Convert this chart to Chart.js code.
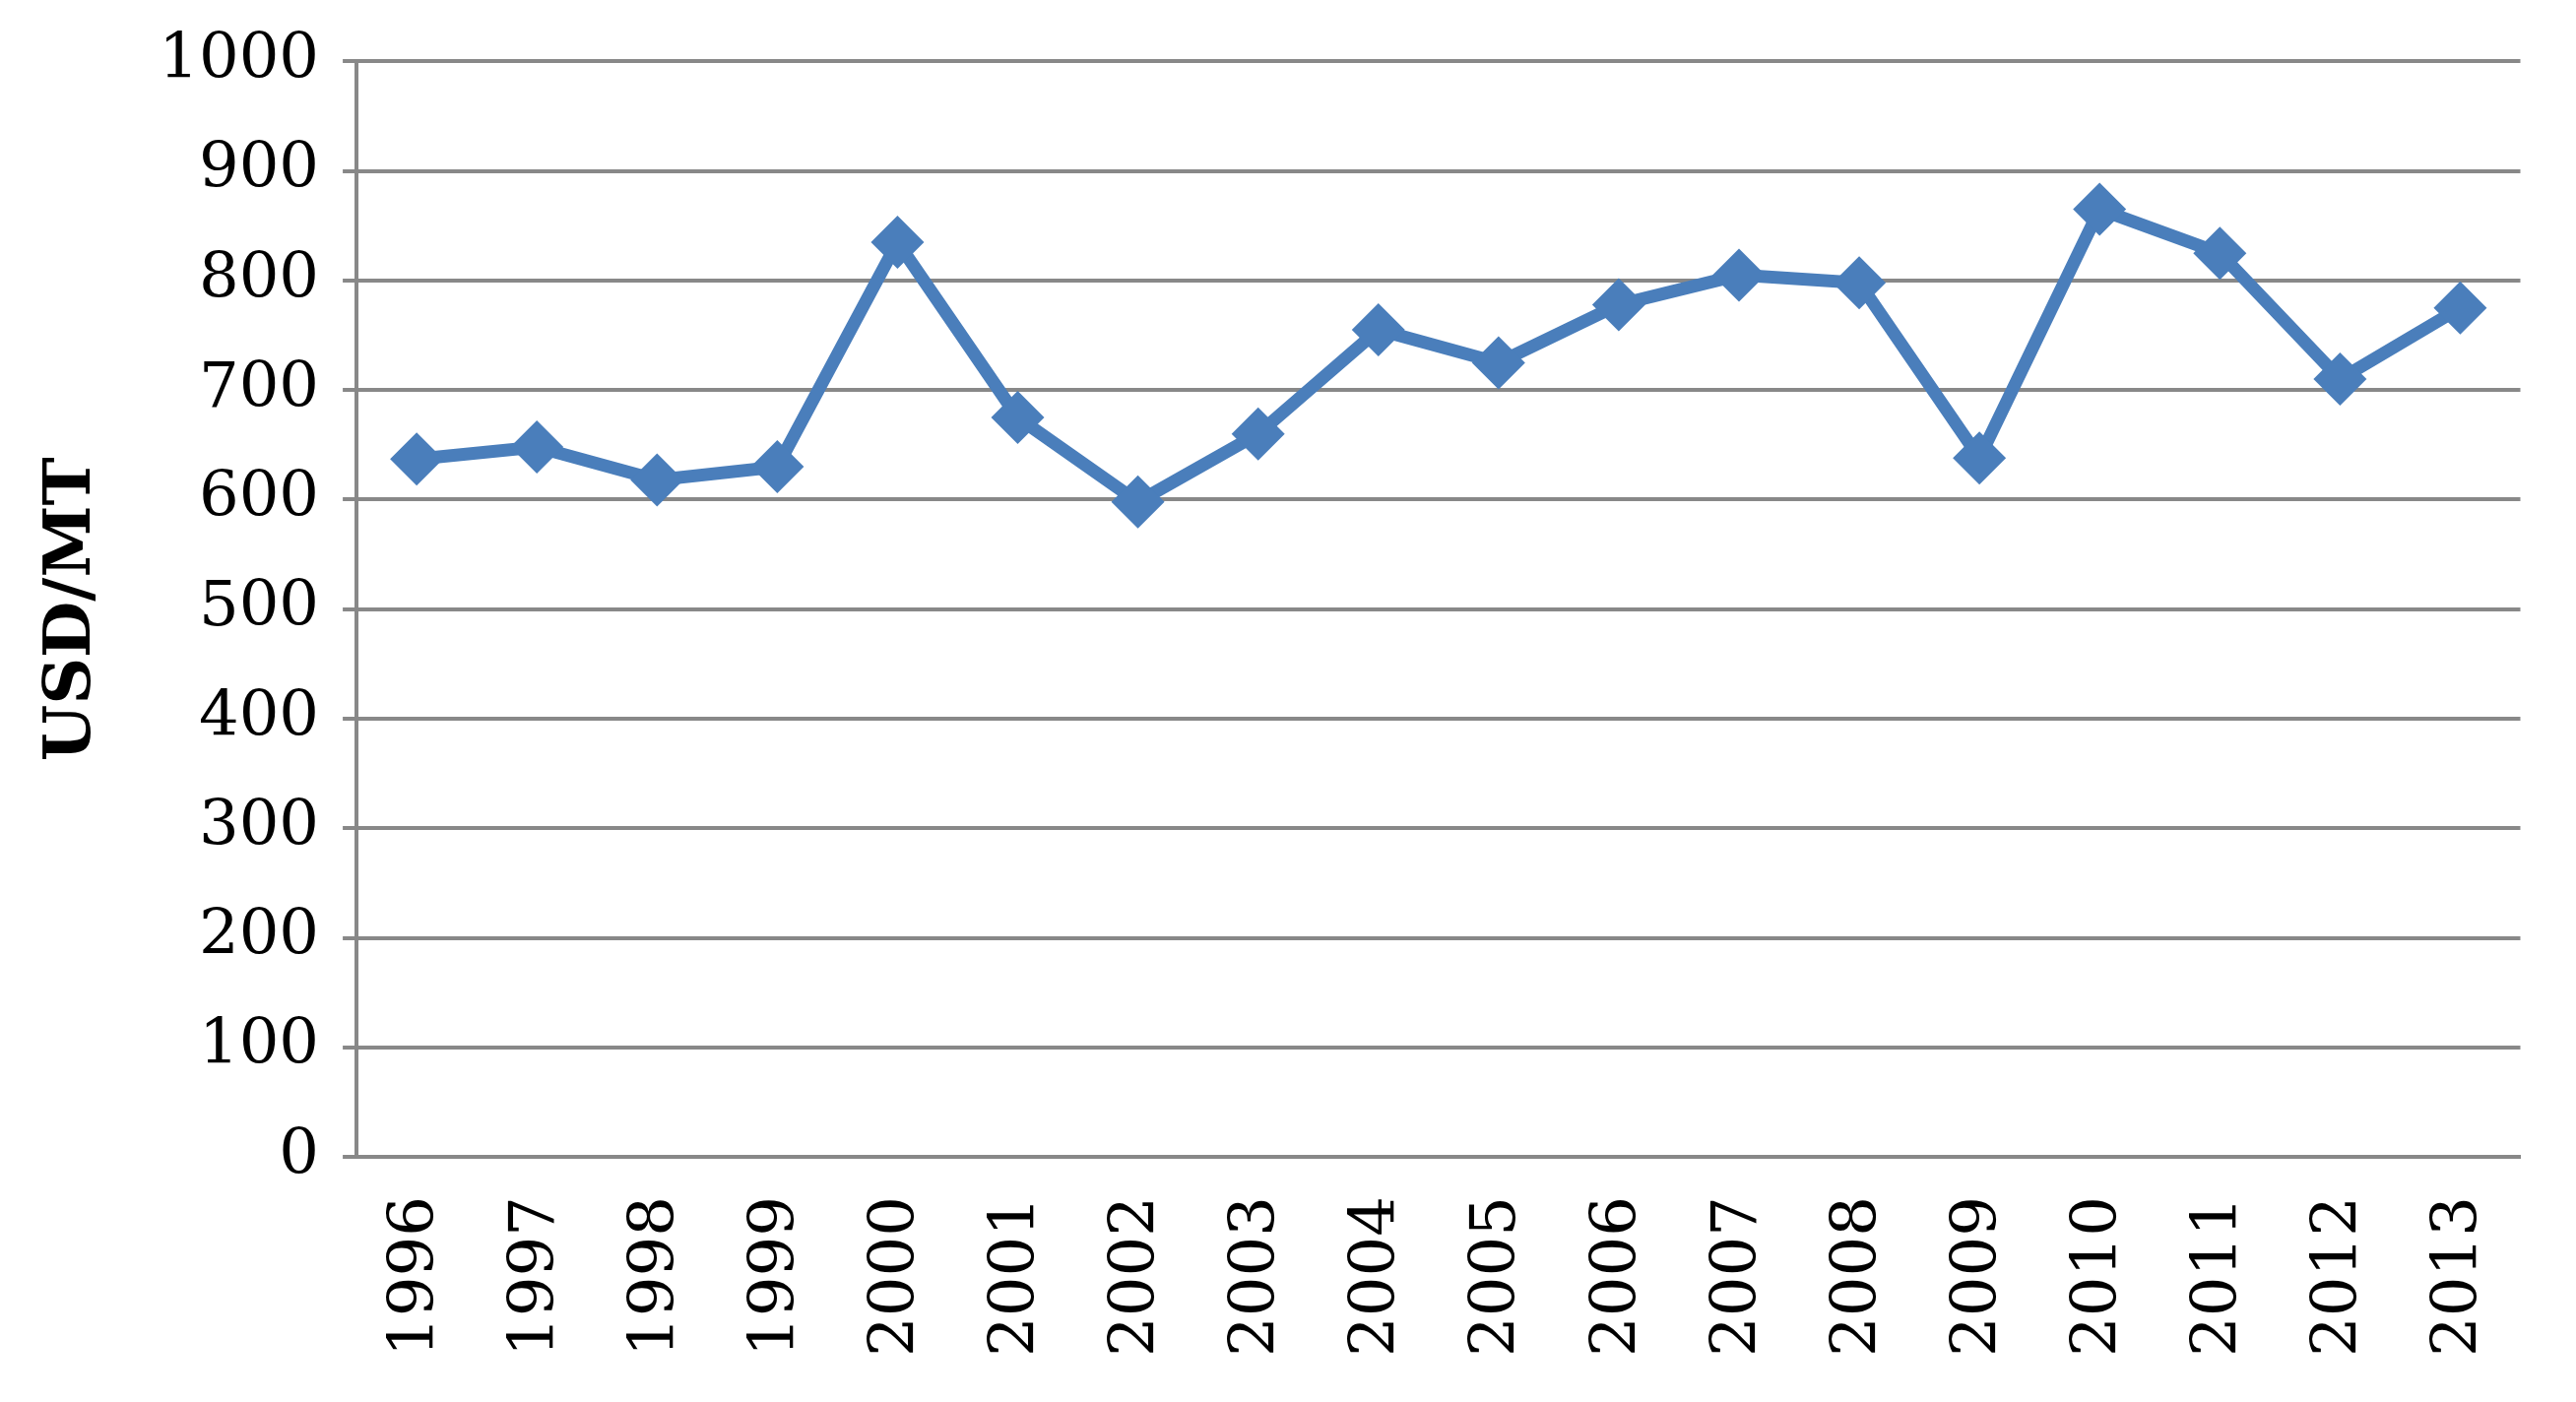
<!DOCTYPE html>
<html>
<head>
<meta charset="utf-8">
<script src="https://cdn.jsdelivr.net/npm/chart.js@4"></script>
<style>
  html, body { margin: 0; padding: 0; background: #fff; }
  #wrap { width: 2616px; height: 1424px; }
</style>
</head>
<body>
<div id="wrap"><canvas id="c"></canvas></div>
<script>
const years = ['1996','1997','1998','1999','2000','2001','2002','2003','2004','2005','2006','2007','2008','2009','2010','2011','2012','2013']
const prices = [637, 648, 618, 630, 835, 675, 598, 660, 755, 725, 778, 805, 798, 638, 865, 825, 710, 775]

const blue = '#4a7ebb'
const grey = '#888888'
const serif = "'DejaVu Serif', 'Liberation Serif', serif"

new Chart(document.getElementById('c'), {
    type: 'line',
    data: {
        labels: years,
        datasets: [{
            data: prices,
            borderColor: blue,
            backgroundColor: blue,
            borderWidth: 13,
            pointStyle: 'rectRot',
            pointRadius: 27,
            pointBorderWidth: 0,
            tension: 0
        }]
    },
    options: {
        responsive: true,
        maintainAspectRatio: false,
        animation: false,
        layout: {padding: {top: 20, right: 15, left: 10, bottom: 6}},
        plugins: {legend: {display: false}, tooltip: {enabled: false}},
        scales: {
            x: {
                offset: true,
                grid: {display: false, drawTicks: false},
                border: {color: grey, width: 4},
                ticks: {
                    color: '#000',
                    font: {family: serif, size: 64},
                    maxRotation: 90,
                    minRotation: 90,
                    padding: 40
                }
            },
            y: {
                min: 0,
                max: 1000,
                grid: {color: grey, lineWidth: 4, tickLength: 14},
                border: {color: grey, width: 4},
                ticks: {
                    stepSize: 100,
                    color: '#000',
                    font: {family: serif, size: 64},
                    padding: 24,
                    callback: v => String(v)
                },
                title: {
                    display: true,
                    text: 'USD/MT',
                    color: '#000',
                    font: {family: serif, size: 66, weight: 'bold'},
                    padding: 24
                }
            }
        }
    }
})
</script>
</body>
</html>
